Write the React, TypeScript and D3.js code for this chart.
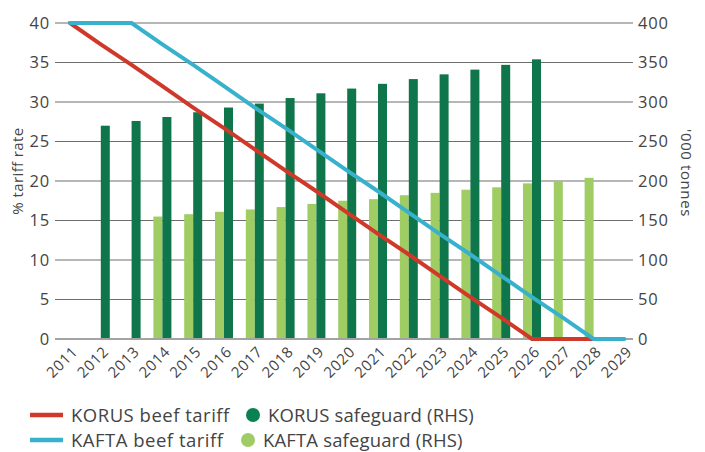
import { useRef, useEffect } from 'react'
import * as d3 from 'd3'

const years = ['2011', '2012', '2013', '2014', '2015', '2016', '2017', '2018', '2019', '2020',
  '2021', '2022', '2023', '2024', '2025', '2026', '2027', '2028', '2029']

// '000 tonnes (RHS)
const korusSafeguard = [null, 270, 276, 281, 287, 293, 298, 305, 311, 317, 323, 329, 335, 341, 347, 354, null, null, null]
const kaftaSafeguard = [null, null, null, 155, 158, 161, 164, 167, 171, 175, 177, 182, 185, 189, 192, 197, 200, 204, null]

// % tariff (LHS)
const korusTariff = [40, 37.3, 34.7, 32, 29.3, 26.7, 24, 21.3, 18.7, 16, 13.3, 10.7, 8, 5.3, 2.7, 0, 0, 0, null]
const kaftaTariff = [40, 40, 40, 37.3, 34.7, 32, 29.3, 26.7, 24, 21.3, 18.7, 16, 13.3, 10.7, 8, 5.3, 2.7, 0, 0]

const leftTicks = [0, 5, 10, 15, 20, 25, 30, 35, 40]
const rightTicks = [0, 50, 100, 150, 200, 250, 300, 350, 400]

const RED = '#d0392a'
const BLUE = '#38b1cc'
const DARK = '#0f764b'
const LIGHT = '#9fcd64'
const TEXT = '#444'
const FONT = '"Open Sans", sans-serif'

export default function App() {
  const svgRef = useRef(null)

  useEffect(() => {
    document.body.style.margin = '0'
    const width = 705
    const height = 452
    const svg = d3.select(svgRef.current)
    svg.selectAll('*').remove()
    svg.attr('width', width).attr('height', height).style('font-family', FONT)

    const x = d3.scaleBand().domain(years).range([54.6, 54.6 + 19 * 30.8])
    const yL = d3.scaleLinear().domain([0, 40]).range([339, 23])
    const yR = d3.scaleLinear().domain([0, 400]).range([339, 23])
    const gridX0 = 55
    const gridX1 = 633
    const bw = 9
    const cx = (i) => x(years[i]) + x.bandwidth() / 2

    // gridlines
    svg.append('g')
      .selectAll('line')
      .data(leftTicks.filter((d) => d > 0))
      .join('line')
      .attr('x1', gridX0)
      .attr('x2', gridX1)
      .attr('y1', (d) => yL(d))
      .attr('y2', (d) => yL(d))
      .attr('stroke', '#6e6e6e')
      .attr('stroke-width', 1.2)

    // bars
    svg.append('g')
      .selectAll('rect')
      .data(kaftaSafeguard.map((v, i) => ({ v, i })).filter((d) => d.v != null))
      .join('rect')
      .attr('x', (d) => cx(d.i) - bw)
      .attr('width', bw)
      .attr('y', (d) => yR(d.v))
      .attr('height', (d) => yR(0) - yR(d.v))
      .attr('fill', LIGHT)

    svg.append('g')
      .selectAll('rect')
      .data(korusSafeguard.map((v, i) => ({ v, i })).filter((d) => d.v != null))
      .join('rect')
      .attr('x', (d) => cx(d.i))
      .attr('width', bw)
      .attr('y', (d) => yR(d.v))
      .attr('height', (d) => yR(0) - yR(d.v))
      .attr('fill', DARK)

    // zero line
    svg.append('line')
      .attr('x1', gridX0)
      .attr('x2', gridX1)
      .attr('y1', yL(0))
      .attr('y2', yL(0))
      .attr('stroke', '#a3a3a3')
      .attr('stroke-width', 2)

    // tariff lines
    const line = d3.line()
      .defined((d) => d != null)
      .x((d, i) => cx(i))
      .y((d) => yL(d))

    svg.append('path')
      .attr('d', line(korusTariff))
      .attr('fill', 'none')
      .attr('stroke', RED)
      .attr('stroke-width', 4)
      .attr('stroke-linecap', 'round')

    svg.append('path')
      .attr('d', line(kaftaTariff))
      .attr('fill', 'none')
      .attr('stroke', BLUE)
      .attr('stroke-width', 4)
      .attr('stroke-linecap', 'round')

    // left axis labels
    svg.append('g')
      .selectAll('text')
      .data(leftTicks)
      .join('text')
      .attr('x', 50)
      .attr('y', (d) => yL(d))
      .attr('dy', '0.36em')
      .attr('text-anchor', 'end')
      .attr('font-size', 16.5)
      .attr('letter-spacing', 0.8)
      .attr('fill', TEXT)
      .text((d) => d)

    // right axis labels
    svg.append('g')
      .selectAll('text')
      .data(rightTicks)
      .join('text')
      .attr('x', 638)
      .attr('y', (d) => yR(d))
      .attr('dy', '0.36em')
      .attr('text-anchor', 'start')
      .attr('font-size', 16.5)
      .attr('letter-spacing', 0.8)
      .attr('fill', TEXT)
      .text((d) => d)

    // x labels
    svg.append('g')
      .selectAll('text')
      .data(years)
      .join('text')
      .attr('transform', (d) => `translate(${x(d) + x.bandwidth() / 2 + 5},${349}) rotate(-45)`)
      .attr('text-anchor', 'end')
      .attr('dy', '0.35em')
      .attr('font-size', 15)
      .attr('letter-spacing', 0.6)
      .attr('fill', TEXT)
      .text((d) => d)

    // axis titles
    svg.append('text')
      .attr('transform', `translate(23,171) rotate(-90)`)
      .attr('text-anchor', 'middle')
      .attr('font-size', 15)
      .attr('letter-spacing', 0.4)
      .attr('fill', TEXT)
      .text('% tariff rate')

    svg.append('text')
      .attr('transform', `translate(681,173) rotate(90)`)
      .attr('text-anchor', 'middle')
      .attr('font-size', 15)
      .attr('letter-spacing', 0.6)
      .attr('fill', TEXT)
      .text("'000 tonnes")

    // legend
    const legend = [
      { label: 'KORUS beef tariff', color: RED, type: 'line', x: 30, y: 415 },
      { label: 'KAFTA beef tariff', color: BLUE, type: 'line', x: 30, y: 440 },
      { label: 'KORUS safeguard (RHS)', color: '#0a8151', type: 'dot', x: 253, y: 415 },
      { label: 'KAFTA safeguard (RHS)', color: LIGHT, type: 'dot', x: 248, y: 440 },
    ]
    const lg = svg.append('g')
    legend.forEach((d) => {
      if (d.type === 'line') {
        lg.append('line')
          .attr('x1', d.x)
          .attr('x2', d.x + 33)
          .attr('y1', d.y)
          .attr('y2', d.y)
          .attr('stroke', d.color)
          .attr('stroke-width', 4.5)
        lg.append('text')
          .attr('x', d.x + 41)
          .attr('y', d.y)
          .attr('dy', '0.36em')
          .attr('font-size', 18.5)
          .attr('letter-spacing', 0.5)
          .attr('fill', TEXT)
          .text(d.label)
      } else {
        lg.append('circle')
          .attr('cx', d.x)
          .attr('cy', d.y)
          .attr('r', 7)
          .attr('fill', d.color)
        lg.append('text')
          .attr('x', d.x + 15)
          .attr('y', d.y)
          .attr('dy', '0.36em')
          .attr('font-size', 18.5)
          .attr('letter-spacing', 0.15)
          .attr('fill', TEXT)
          .text(d.label)
      }
    })
  }, [])

  return <svg ref={svgRef} style={{ display: 'block' }} />
}
